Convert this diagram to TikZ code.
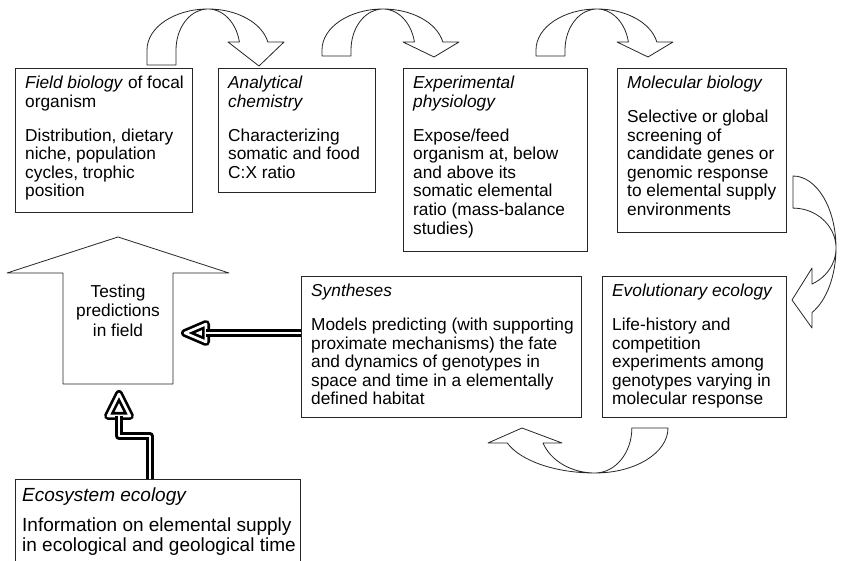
\documentclass[tikz,border=0pt]{standalone}
\usepackage{fontspec}
\setmainfont{Liberation Sans}
\newcommand\TopBend[3]{%
  \draw[blk] ({#1-61},#2) -- ({#1-61},50)
    arc[start angle=180, end angle=348.75, x radius=61, y radius=41]
    -- ({#1+76},42) -- ({#1+51},#3) -- ({#1+20},42) -- ({#1+31.4},42)
    arc[start angle=348.75, end angle=180, x radius=32, y radius=41]
    -- ({#1-32},#2) -- cycle;}
\begin{document}
\begin{tikzpicture}[x=1pt,y=-1pt,
  box/.style={draw=black!85, line width=0.9pt, rectangle, inner sep=0pt, anchor=north west},
  txt/.style={inner sep=0pt, anchor=base west, font=\fontsize{17.3pt}{18.6pt}\selectfont},
  blk/.style={draw=black!85, line width=0.8pt, fill=white, line join=round},
  dbl/.style={draw=black, line width=2.7pt, double=white, double distance=2.6pt, line join=round}]
\useasboundingbox (0,0) rectangle (844,561);
\clip (0,0) rectangle (844,561);
\fill[white] (0,0) rectangle (844,561);

% boxes
\node[box, minimum width=177pt, minimum height=144pt] (fb) at (15,68) {};
\node[box, minimum width=157pt, minimum height=124pt] (ac) at (218,68) {};
\node[box, minimum width=184pt, minimum height=183pt] (ep) at (403,68) {};
\node[box, minimum width=169pt, minimum height=164pt] (mb) at (617,68) {};
\node[box, minimum width=280pt, minimum height=141pt] (syn) at (301,276) {};
\node[box, minimum width=184pt, minimum height=141pt] (ee) at (602,276) {};
\node[box, minimum width=285pt, minimum height=95pt] (eco) at (15,479) {};

% texts
\node[txt] (fbt) at (25,89) {\parbox[t]{175pt}{\raggedright\textit{Field biology} of focal\\organism\par\vspace{15pt}Distribution, dietary\\niche, population\\cycles, trophic\\position}};
\node[txt] (act) at (228,89) {\parbox[t]{150pt}{\raggedright\textit{Analytical}\\\textit{chemistry}\par\vspace{15pt}Characterizing\\somatic and food\\C:X ratio}};
\node[txt] (ept) at (413,89) {\parbox[t]{175pt}{\raggedright\textit{Experimental}\\\textit{physiology}\par\vspace{15pt}Expose/feed\\organism at, below\\and above its\\somatic elemental\\ratio (mass-balance\\studies)}};
\node[txt] (mbt) at (627,89) {\parbox[t]{165pt}{\raggedright\textit{Molecular biology}\par\vspace{15pt}Selective or global\\screening of\\candidate genes or\\genomic response\\to elemental supply\\environments}};
\node[txt] (synt) at (311,297) {\parbox[t]{275pt}{\raggedright\textit{Syntheses}\par\vspace{15pt}Models predicting (with supporting\\proximate mechanisms) the fate\\and dynamics of genotypes in\\space and time in a elementally\\defined habitat}};
\node[txt] (eet) at (612,297) {\parbox[t]{175pt}{\raggedright\textit{Evolutionary ecology}\par\vspace{15pt}Life-history and\\competition\\experiments among\\genotypes varying in\\molecular response}};
\node[txt, font=\fontsize{19pt}{20pt}\selectfont] (ecot) at (22,501) {\parbox[t]{280pt}{\raggedright\textit{Ecosystem ecology}\par\vspace{10pt}Information on elemental supply\\in ecological and geological time}};

% curved block arrows
\TopBend{208}{65}{66}
\TopBend{383}{56}{57}
\TopBend{597}{56}{57}
\draw[blk] (793,176) arc[start angle=-90, end angle=63.8, x radius=43, y radius=72]
  -- (812,328) -- (792,300) -- (812,268) -- (812,284)
  arc[start angle=63.8, end angle=-90, x radius=43, y radius=40] -- cycle;
\draw[blk] (668,428) arc[start angle=0, end angle=90, x radius=73, y radius=45]
  arc[start angle=90, end angle=160.53, x radius=93, y radius=45]
  -- (488,443) -- (522,428) -- (562,443) -- (543,443)
  arc[start angle=160.53, end angle=90, x radius=55, y radius=45]
  arc[start angle=90, end angle=0, x radius=37, y radius=45] -- cycle;

% house arrow
\draw[blk] (63,384) -- (63,273) -- (7,273) -- (118,237) -- (229,273) -- (173,273) -- (173,384) -- cycle;
\node[inner sep=0pt, anchor=base, font=\fontsize{17.3pt}{19.5pt}\selectfont] (tp) at (118,297.5) {\parbox[t]{100pt}{\centering Testing\\predictions\\in field}};

% double arrows
\coordinate (hh) at (206,333);
\draw[dbl] (206,324) -- (185,333) -- (206,342) -- cycle;
\draw[dbl] (syn.west |- hh) -- (hh);
\coordinate (u0) at (150,479);
\draw[dbl] (108,416) -- (119,394) -- (130,416) -- cycle;
\draw[dbl] (u0) -- (150,436) -- (119,436) -- (119,416);
\end{tikzpicture}
\end{document}
